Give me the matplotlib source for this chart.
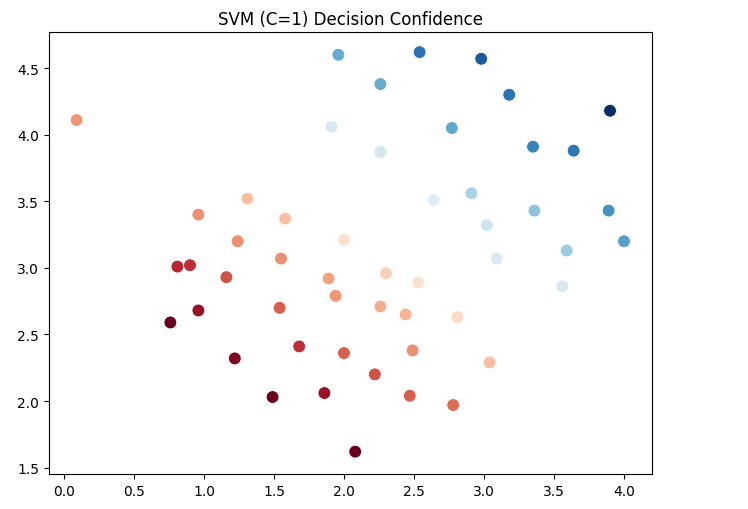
import matplotlib as mpl
mpl.use('Agg')
import matplotlib.pyplot as plt
import numpy as np

# point positions
x = [0.09, 1.96, 2.54, 2.98, 2.26, 3.18, 3.90, 1.91, 2.77, 3.35,
     3.64, 2.26, 1.31, 2.91, 2.64, 0.96, 1.58, 3.36, 3.89, 3.02,
     4.00, 1.24, 2.00, 3.59, 3.09, 1.55, 0.81, 0.90, 1.16, 1.89,
     2.30, 2.53, 3.56, 1.94, 2.26, 0.96, 1.54, 2.44, 2.81, 0.76,
     1.68, 2.00, 2.49, 1.22, 3.04, 2.22, 1.49, 1.86, 2.47, 2.78,
     2.08]
y = [4.11, 4.60, 4.62, 4.57, 4.38, 4.30, 4.18, 4.06, 4.05, 3.91,
     3.88, 3.87, 3.52, 3.56, 3.51, 3.40, 3.37, 3.43, 3.43, 3.32,
     3.20, 3.20, 3.21, 3.13, 3.07, 3.07, 3.01, 3.02, 2.93, 2.92,
     2.96, 2.89, 2.86, 2.79, 2.71, 2.68, 2.70, 2.65, 2.63, 2.59,
     2.41, 2.36, 2.38, 2.32, 2.29, 2.20, 2.03, 2.06, 2.04, 1.97,
     1.62]
# decision function values (estimated from colour)
conf = [-0.44, 0.50, 0.74, 0.84, 0.50, 0.74, 1.00, 0.16, 0.52, 0.66,
        0.72, 0.18, -0.30, 0.32, 0.12, -0.46, -0.30, 0.40, 0.60, 0.20,
        0.54, -0.46, -0.16, 0.36, 0.16, -0.46, -0.76, -0.74, -0.64, -0.40,
        -0.24, -0.16, 0.16, -0.44, -0.36, -0.86, -0.60, -0.34, -0.20, -1.00,
        -0.74, -0.60, -0.46, -0.94, -0.30, -0.64, -0.98, -0.86, -0.60, -0.56,
        -1.00]

fig = plt.figure(figsize=(7.48, 5.1), dpi=100)
ax = fig.add_axes([0.0655, 0.0686, 0.8062, 0.8664])
ax.scatter(x, y, c=conf, cmap='RdBu', vmin=-1, vmax=1, s=85,
           edgecolors='white', linewidths=0.6)
ax.set_xlim(-0.107, 4.2)
ax.set_ylim(1.452, 4.77)
ax.set_xticks(np.arange(0, 4.01, 0.5))
ax.set_yticks(np.arange(1.5, 4.51, 0.5))
ax.set_title('SVM (C=1) Decision Confidence', fontsize=12)
plt.savefig('out.png', dpi=100)
